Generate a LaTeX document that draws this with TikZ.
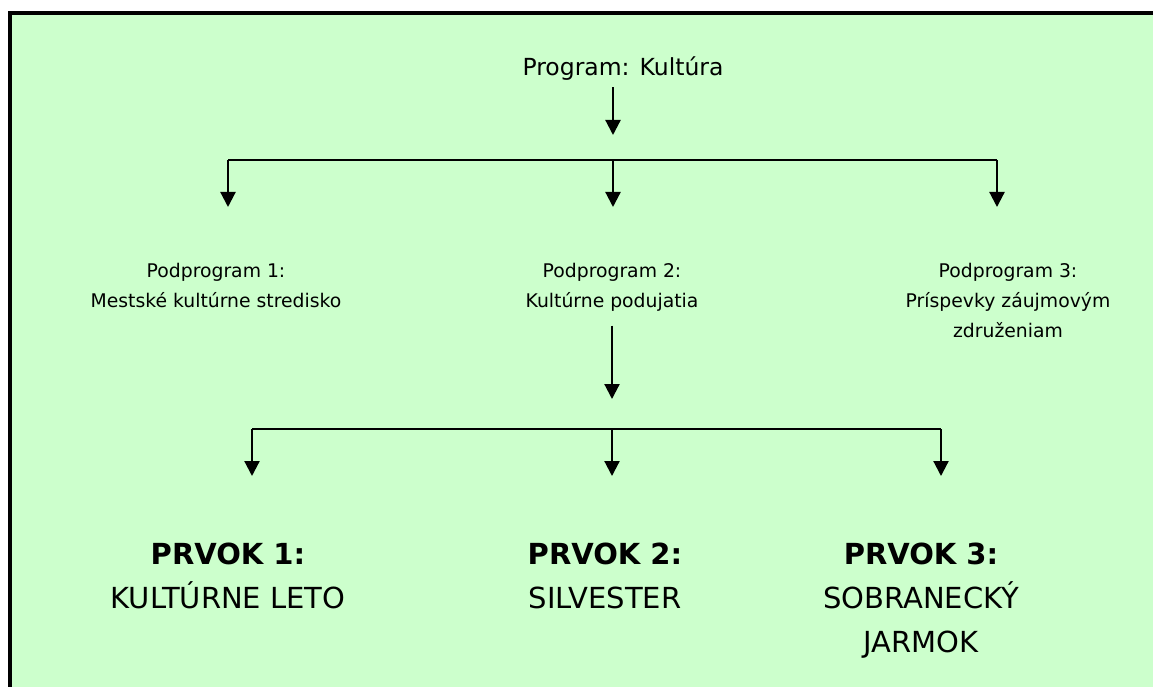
\documentclass[tikz,border=0pt]{standalone}
\usepackage{fontspec}
\setmainfont{DejaVu Sans}
\usetikzlibrary{positioning, arrows.meta}
\definecolor{bggreen}{HTML}{CCFFCC}

\begin{document}
\begin{tikzpicture}[x=1pt, y=-1pt, every node/.style={inner sep=0pt},
  titel/.style={font=\fontsize{23.5}{26}\selectfont, anchor=base},
  podprog/.style={font=\fontsize{18.8}{30}\selectfont, align=center, anchor=north},
  prvok/.style={font=\fontsize{29}{44}\selectfont, align=center, anchor=north},
  wire/.style={line width=2.2pt},
  arr/.style={line width=2.2pt, -{Triangle[width=15pt,length=15pt]}}]
\useasboundingbox (0,0) rectangle (1153,687);
\fill[bggreen] (10,13) rectangle (1153,687);
\draw[line width=4pt] (10,690) -- (10,13) -- (1156,13);

\node (prog) [titel] at (623,76) {Program: Kultúra};
\node (pod1) [podprog] at (216,263) {Podprogram 1:\\Mestské kultúrne stredisko};
\node (pod2) [podprog] at (612,263) {Podprogram 2:\\Kultúrne podujatia};
\node (pod3) [podprog] at (1008,263) {Podprogram 3:\\Príspevky záujmovým\\združeniam};
\node (prvok1) [prvok] at (228,543) {{\bfseries PRVOK 1:}\\KULTÚRNE LETO};
\node (prvok2) [prvok] at (605,543) {{\bfseries PRVOK 2:}\\SILVESTER};
\node (prvok3) [prvok] at (921,543) {{\bfseries PRVOK 3:}\\SOBRANECKÝ\\JARMOK};

\coordinate (tipA) at (613,135);
\coordinate (hubA) at (613,160);
\coordinate (a1) at (228,207);
\coordinate (a2) at (613,207);
\coordinate (a3) at (997,207);
\coordinate (tipB) at (612,399);
\coordinate (hubB) at (612,429);
\coordinate (b1) at (252,476);
\coordinate (b2) at (612,476);
\coordinate (b3) at (941,476);

\draw[arr, shorten <=6pt] (prog.south -| tipA) -- (tipA);
\draw[wire] (a1 |- hubA) -- (a3 |- hubA);
\foreach \i in {1,2,3}
  \draw[arr] (a\i |- hubA) -- (a\i);
\draw[arr, shorten <=14pt] (pod2.south -| tipB) -- (tipB);
\draw[wire] (b1 |- hubB) -- (b3 |- hubB);
\foreach \i in {1,2,3}
  \draw[arr] (b\i |- hubB) -- (b\i);
\end{tikzpicture}
\end{document}
